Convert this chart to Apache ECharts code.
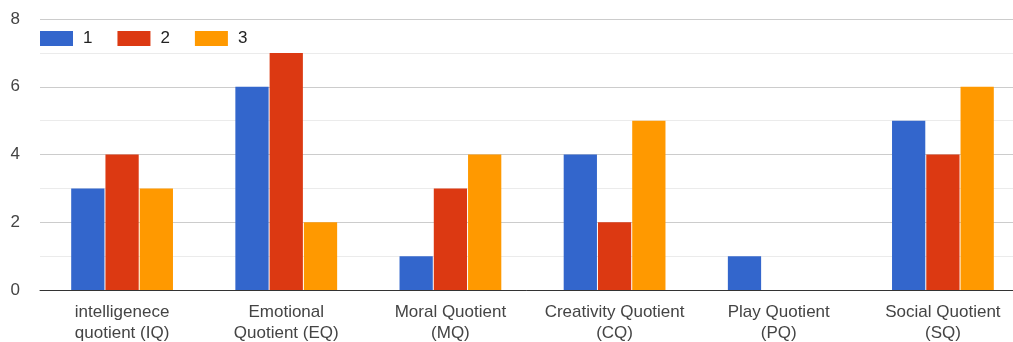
<!DOCTYPE html>
<html>
<head>
<meta charset="utf-8">
<script src="https://cdn.jsdelivr.net/npm/echarts@6/dist/echarts.min.js"></script>
<style>
  html, body { margin: 0; padding: 0; background: #fff; }
  #chart { width: 1013px; height: 342px; }
</style>
</head>
<body>
<div id="chart"></div>
<script>
// Quotient categories and the counts for each rating
const categories = [
  'intelligenece\nquotient (IQ)',
  'Emotional\nQuotient (EQ)',
  'Moral Quotient\n(MQ)',
  'Creativity Quotient\n(CQ)',
  'Play Quotient\n(PQ)',
  'Social Quotient\n(SQ)'
];
const seriesNames = ['1', '2', '3'];
const rating1 = [3, 6, 1, 4, 1, 5];
const rating2 = [4, 7, 3, 2, 0, 4];
const rating3 = [3, 2, 4, 5, 0, 6];
const colors = ['#3366cc', '#dc3912', '#ff9900'];

const font = '"Liberation Sans", Arial, sans-serif';
const chart = echarts.init(document.getElementById('chart'));

const values = [rating1, rating2, rating3];
chart.setOption({
  animation: false,
  color: colors,
  textStyle: { fontFamily: font },
  legend: {
    left: 40,
    top: 30,
    padding: 0,
    itemWidth: 33,
    itemHeight: 15,
    itemGap: 25,
    icon: 'rect',
    textStyle: { fontSize: 17, color: '#222', fontFamily: font, padding: [0, 0, 0, 5] },
    data: seriesNames
  },
  // plot runs a little past the right edge of the canvas
  grid: { left: 40, width: 985, top: 19, bottom: 52, containLabel: false, outerBoundsMode: 'none' },
  xAxis: {
    type: 'category',
    data: categories,
    axisTick: { show: false },
    axisLine: { lineStyle: { color: '#333', width: 1 } },
    axisLabel: {
      color: '#444',
      fontSize: 17,
      lineHeight: 21,
      margin: 12,
      interval: 0,
      fontFamily: font
    }
  },
  yAxis: {
    type: 'value',
    min: 0,
    max: 8,
    interval: 2,
    axisLine: { show: false },
    axisTick: { show: false },
    axisLabel: { color: '#444', fontSize: 17, margin: 20, fontFamily: font },
    splitLine: { lineStyle: { color: '#ccc' } },
    minorTick: { show: false, splitNumber: 2 },
    minorSplitLine: { show: true, lineStyle: { color: '#ebebeb' } }
  },
  series: seriesNames.map((name, i) => ({
    name: name,
    type: 'bar',
    data: values[i],
    barGap: '3%',
    barCategoryGap: '38%',
    itemStyle: { color: colors[i] }
  }))
});
</script>
</body>
</html>
